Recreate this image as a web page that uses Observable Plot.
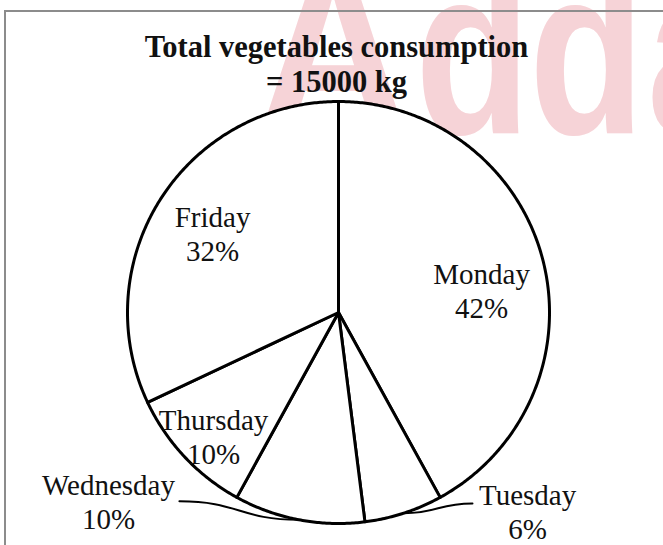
<!DOCTYPE html>
<html>
<head>
<meta charset="utf-8">
<script src="https://cdn.jsdelivr.net/npm/d3@7"></script>
<script src="https://cdn.jsdelivr.net/npm/@observablehq/plot@0.6"></script>
<style>
  html, body { margin: 0; padding: 0; background: #fff; }
  #wrap { position: relative; width: 663px; height: 545px; overflow: hidden; }
  .wm { position: absolute; top: -68px; font-family: "Liberation Sans", Arial, sans-serif;
        font-weight: bold; font-size: 237px; line-height: 1; color: #f6d3d7; white-space: nowrap;
        transform-origin: 0 0; transform: scaleX(0.8); }
  #border { position: absolute; left: 4px; top: 10px; width: 800px; height: 700px;
            border-left: 2px solid #8c8c8c; border-top: 2px solid #8c8c8c; }
  #chart { position: absolute; left: 0; top: 0; }
</style>
</head>
<body>
<div id="wrap">
  <div class="wm" style="left:256px; transform: scaleX(0.9)">A</div>
  <div class="wm" style="left:415px">d</div>
  <div class="wm" style="left:529px">d</div>
  <div class="wm" style="left:647px">a</div>
  <div id="border"></div>
  <div id="chart"></div>
</div>
<script>
// ---- data ----
const days = ["Monday", "Tuesday", "Wednesday", "Thursday", "Friday"];
const shares = [42, 6, 10, 10, 32];           // percent
const totalKg = 15000;
const titleLines = ["Total vegetables consumption", "= " + totalKg + " kg"];

// ---- layout (label placement in pie-radius units) ----
const labelX = [0.678, 0.896, -1.090, -0.592, -0.597];
const labelY = [0.106, -0.942, -0.894, -0.586, 0.378];
// leader lines for outside labels: start point near the label
const leaderDays = ["Tuesday", "Wednesday"];
const leaderX = [0.635, -0.754];
const leaderY = [-0.905, -0.895];

const rows = days.map((d, i) => ({day: d, share: shares[i]}));
const arcs = d3.pie().sort(null).value(d => d.share)(rows);

const slicePts = [];
for (const a of arcs) {
  const day = a.data.day;
  slicePts.push({day, x: 0, y: 0});
  const n = Math.max(4, Math.ceil((a.endAngle - a.startAngle) / (Math.PI / 360)));
  for (let k = 0; k <= n; k++) {
    const t = a.startAngle + (a.endAngle - a.startAngle) * k / n;
    slicePts.push({day, x: Math.sin(t), y: Math.cos(t)});
  }
  slicePts.push({day, x: 0, y: 0});
}

const labels = rows.map((r, i) => ({
  text: r.day + "\n" + r.share + "%",
  x: labelX[i], y: labelY[i]
}));

const leaderPts = [];
leaderDays.forEach((d, i) => {
  const a = arcs.find(a => a.data.day === d);
  const mid = (a.startAngle + a.endAngle) / 2;
  const p1 = {day: d, x: leaderX[i], y: leaderY[i]};
  const p2 = {day: d, x: Math.sin(mid), y: Math.cos(mid)};
  if (p1.x < p2.x) leaderPts.push(p1, p2); else leaderPts.push(p2, p1);
});

const chart = Plot.plot({
  width: 663,
  height: 545,
  marginLeft: 127,
  marginRight: 114,
  marginTop: 101,
  marginBottom: 22,
  style: {background: "transparent", overflow: "visible"},
  x: {domain: [-1, 1], axis: null},
  y: {domain: [-1, 1], axis: null},
  marks: [
    Plot.line(leaderPts, {x: "x", y: "y", z: "day", curve: "bump-x", stroke: "black", strokeWidth: 2}),
    Plot.line(slicePts, {x: "x", y: "y", z: "day", fill: "white", stroke: "black", strokeWidth: 3, strokeLinejoin: "round", curve: "linear"}),
    Plot.text(labels, {x: "x", y: "y", text: "text", lineAnchor: "middle", lineHeight: 1.17,
      fontFamily: "Liberation Serif", fontSize: 29, fill: "#111"}),
    Plot.text([titleLines.join("\n")], {frameAnchor: "top", dx: -2, dy: -10, lineAnchor: "bottom", lineHeight: 1.12,
      fontFamily: "Liberation Serif", fontWeight: "bold", fontSize: 30.5, fill: "#111"})
  ]
});
document.getElementById("chart").appendChild(chart);
</script>
</body>
</html>
